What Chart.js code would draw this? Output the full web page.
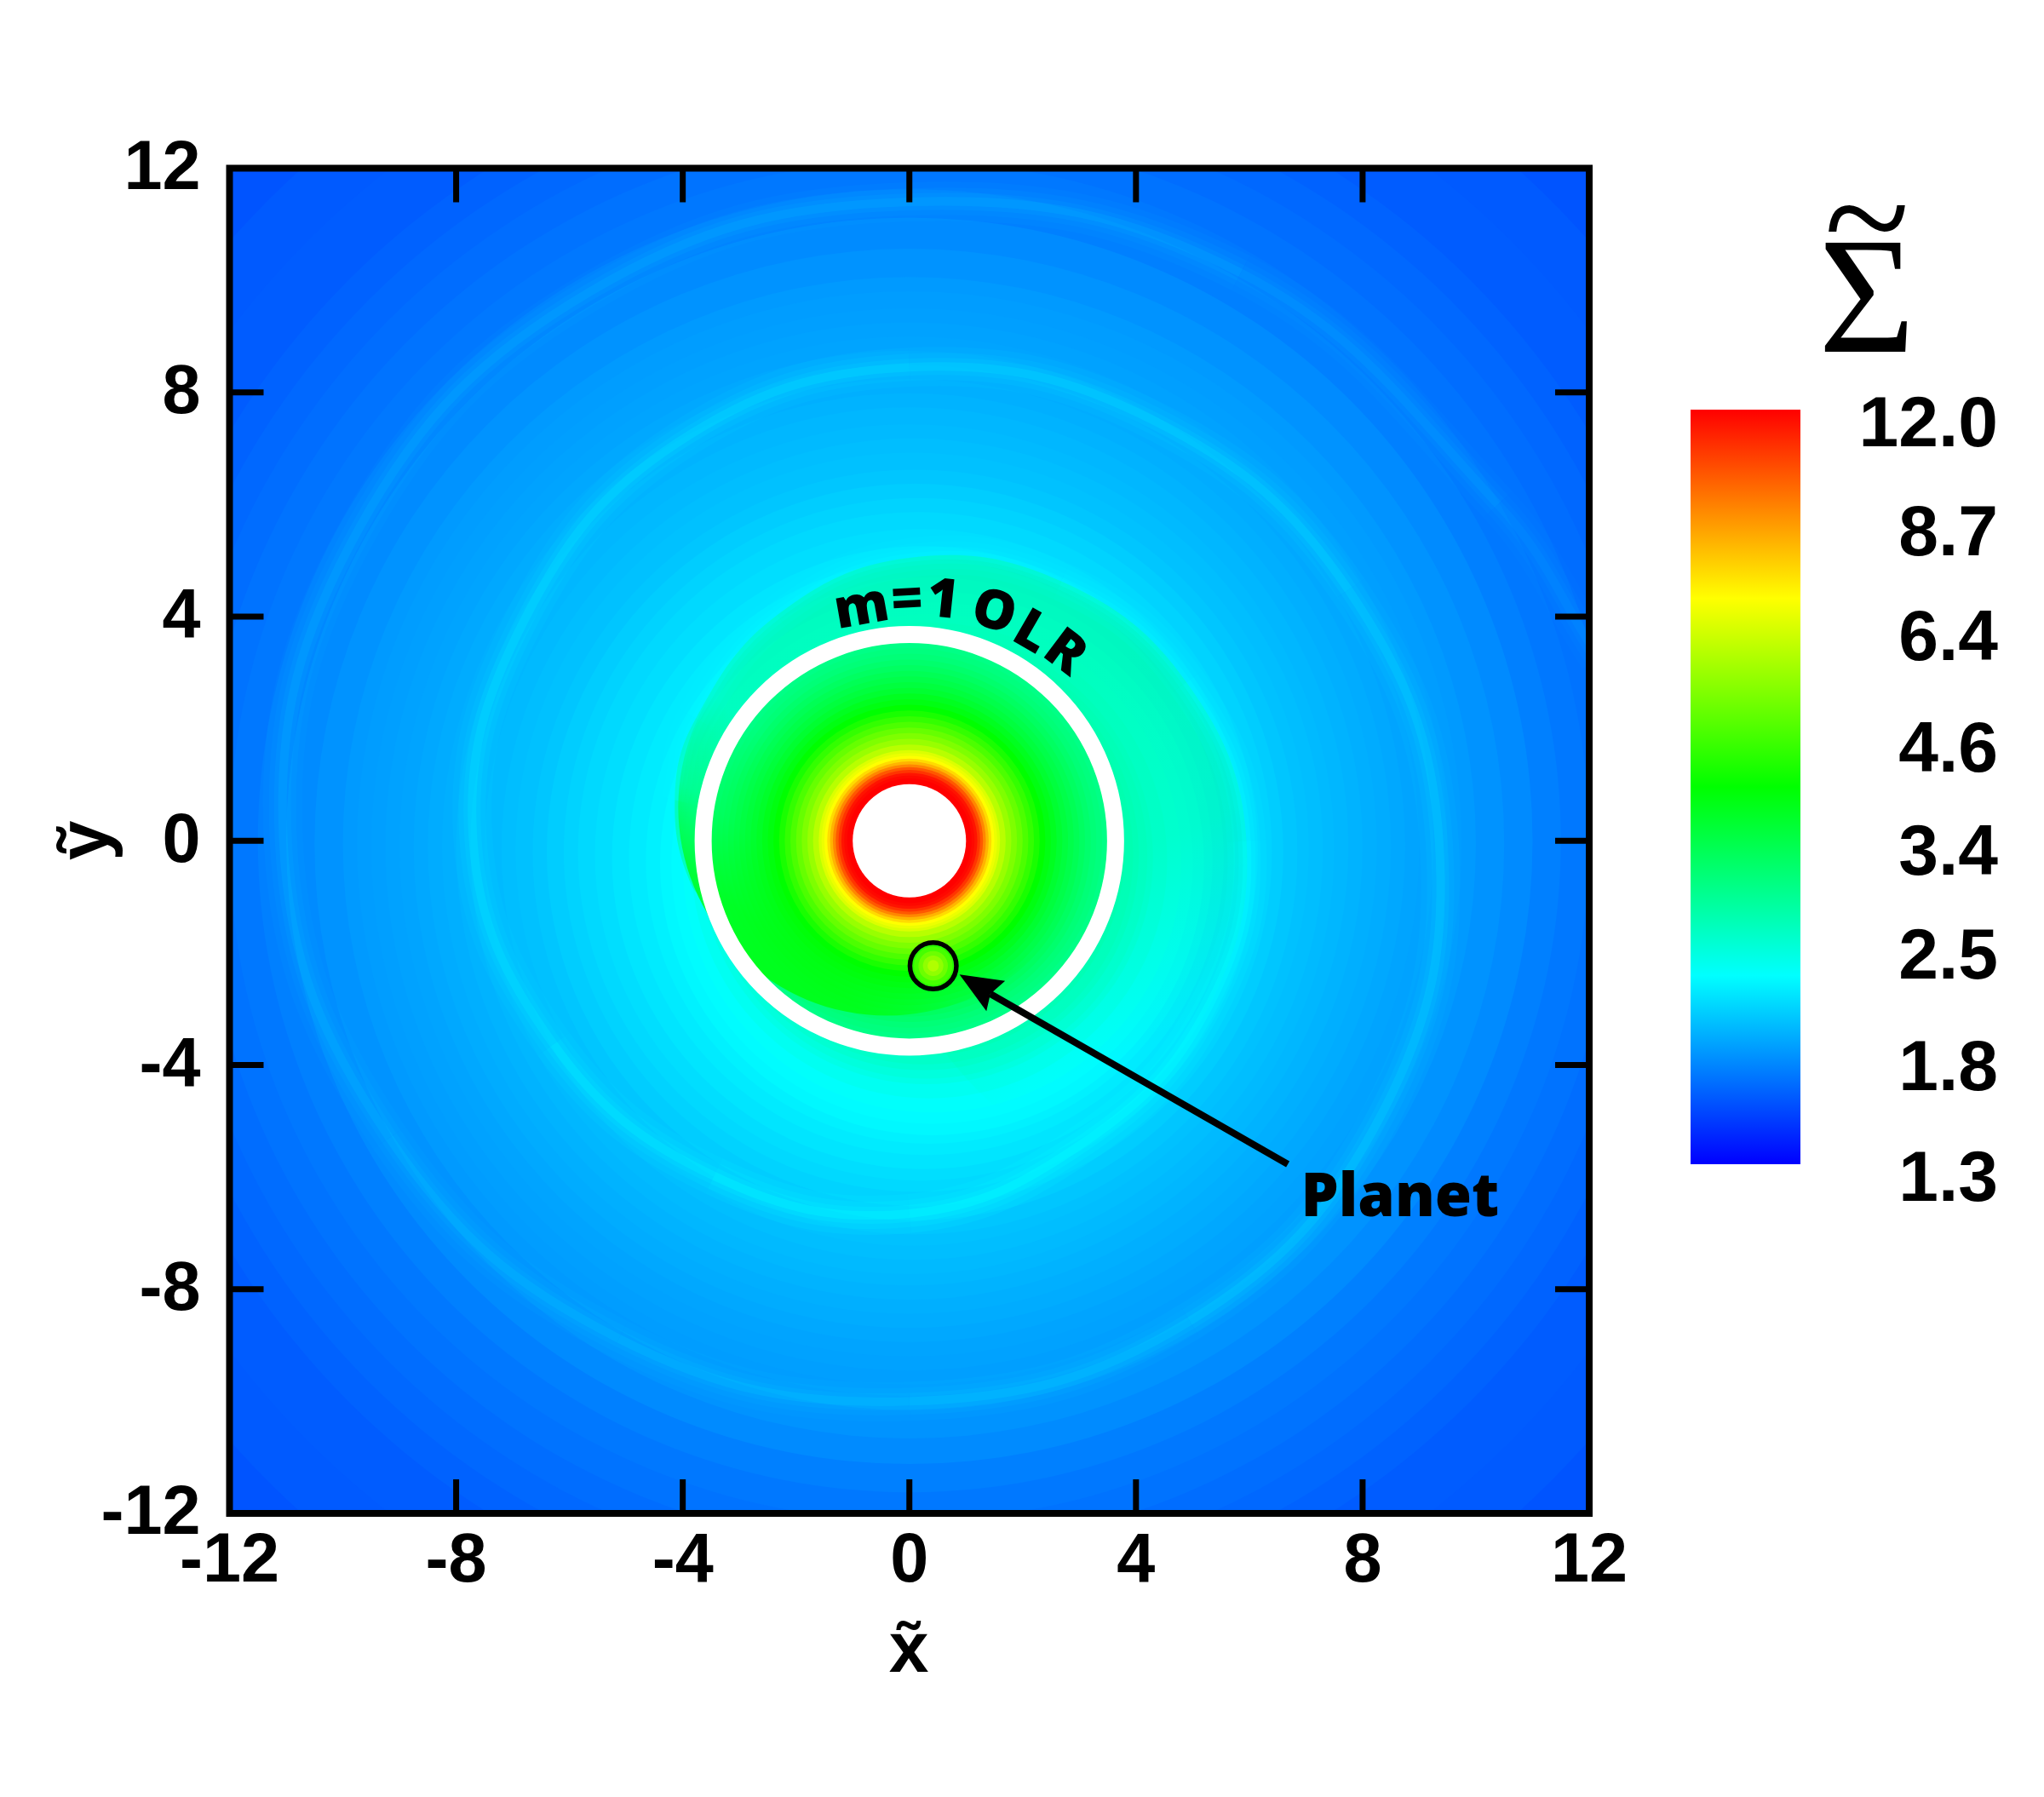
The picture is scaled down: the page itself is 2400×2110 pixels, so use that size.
<!DOCTYPE html>
<html>
<head>
<meta charset="utf-8">
<title>Disc surface density</title>
<script src="https://cdn.jsdelivr.net/npm/chart.js@4"></script>
<style>
  html, body { margin: 0; padding: 0; background: #fff; }
  canvas { position: absolute; left: 0; top: 0; }
</style>
</head>
<body>
<canvas id="field" width="2400" height="2110"></canvas>
<canvas id="bar" width="2400" height="2110"></canvas>
<script>
// --- Axis ticks ---
const xTicks = [-12, -8, -4, 0, 4, 8, 12];
const yTicks = [-12, -8, -4, 0, 4, 8, 12];
const barTicks = [1.3, 1.8, 2.5, 3.4, 4.6, 6.4, 8.7, 12.0];

// --- Colour map (position along the colour bar, rgb) ---
const mapPos = [0, 0.25, 0.5, 0.75, 1];
const mapRgb = [[0, 0, 255], [0, 255, 255], [0, 255, 0], [255, 255, 0], [255, 0, 0]];

// --- Density, outer part of the disc (big to small) ---
const outerRadius = [18, 16, 15, 14, 13.5, 13, 12.5, 12, 11.5, 11, 10.5, 10, 9.75, 9.5, 9.25, 9, 8.75, 8.5, 8.25, 8, 7.75, 7.5, 7.25, 7, 6.75, 6.5, 6.25, 6, 5.75, 5.5, 5.25, 5, 4.8, 4.6, 4.4, 4.2, 4, 3.9, 3.8, 3.7, 3.6];
const outerX = [0, 0, 0, 0, 0, 0, 0, 0, 0, 0, 0, 0, 0, 0, 0, 0, 0, 0, 0, 0, 0, 0, 0.05, 0.05, 0.1, 0.1, 0.15, 0.15, 0.2, 0.25, 0.3, 0.35, 0.4, 0.4, 0.4, 0.35, 0.3, 0.3, 0.25, 0.25, 0.2];
const outerY = [0, 0, 0, 0, 0, 0, 0, 0, 0, 0, -0.05, -0.05, -0.05, -0.1, -0.1, -0.1, -0.1, -0.1, -0.1, -0.1, -0.1, -0.15, -0.15, -0.15, -0.2, -0.2, -0.2, -0.2, -0.25, -0.3, -0.3, -0.35, -0.4, -0.4, -0.4, -0.35, -0.3, -0.3, -0.25, -0.25, -0.2];
const outerSigma = [1.56, 1.58, 1.59, 1.61, 1.63, 1.65, 1.67, 1.69, 1.72, 1.76, 1.79, 1.82, 1.83, 1.84, 1.85, 1.86, 1.875, 1.89, 1.905, 1.92, 1.935, 1.95, 1.965, 1.98, 2.0, 2.03, 2.06, 2.085, 2.11, 2.14, 2.17, 2.2, 2.23, 2.25, 2.28, 2.33, 2.39, 2.44, 2.5, 2.55, 2.61];

// --- Density inside the white circle ---
const innerRadius = [3.5, 3.4, 3.3, 3.2, 3.1, 3, 2.9, 2.8, 2.7, 2.6, 2.5];
const innerSigma = [2.95, 3, 3.05, 3.12, 3.2, 3.28, 3.36, 3.45, 3.55, 3.68, 3.8];

// --- Density around the central hole ---
const coreRadius = [2.4, 2.3, 2.2, 2.1, 2, 1.9, 1.8, 1.7, 1.6, 1.55, 1.5, 1.45, 1.4, 1.35, 1.3, 1.25, 1.2, 1.15, 1.1];
const coreSigma = [3.95, 4.17, 4.41, 4.66, 4.93, 5.2, 5.5, 5.9, 6.36, 6.6, 6.88, 7.45, 8.1, 8.95, 9.9, 10.7, 11.5, 11.8, 12];

// --- Density in the planet's wake ---
const planetX = 0.42;
const planetY = -2.23;
const wakeRadius = [0.42, 0.34, 0.26, 0.18, 0.1];
const wakeSigma = [4.3, 4.6, 5, 5.4, 5.8];
const holeRadius = 1.0;
const gapRadius = 3.64;
const planetRadius = 0.41;

// --- Front of the m=1 lobe, read point by point ---
const lobeX = [-3.3, -3.84, -4.14, -3.77, -2.33, 0, 2.68, 4.89, 5.95, 5.24, 3.1, 0.5, 0];
const lobeY = [-1.2, -0.8, 0.73, 2.18, 4.03, 5.05, 4.63, 2.83, 0, -3.03, -5.37, -3.6, -1];

// --- Spiral wave crest and how strongly it shows along its length ---
const crestX = [-4.14, -3.77, -2.33, 0, 2.68, 4.89, 5.95, 5.24, 3.1, 0, -3.45, -6.28, -7.7, -6.8, -4.1, 0, 4.33, 7.75, 9.35, 8.36, 4.95, 0, -5.13, -9.18, -11.05, -9.7, -5.65, 0, 5.85, 10.39, 12.17];
const crestY = [0.73, 2.18, 4.03, 5.05, 4.63, 2.83, 0, -3.03, -5.37, -6.65, -5.98, -3.63, 0, 3.93, 7.1, 8.45, 7.49, 4.48, 0, -4.83, -8.57, -10, -8.88, -5.3, 0, 5.6, 9.79, 11.4, 10.13, 6, 3.26];
const crestStrength = [0.5, 0.6, 0.55, 0.55, 0.65, 0.8, 1, 1, 1, 0.85, 0.65, 0.5, 0.5, 0.5, 0.5, 0.45, 0.45, 0.4, 0.4, 0.4, 0.35, 0.3, 0.28, 0.25, 0.25, 0.25, 0.25, 0.25, 0.2, 0.15, 0.1];

// --- Arrow to the planet ---
const arrowX = [6.68, 1.43];
const arrowY = [-5.77, -2.73];
const headX = [0.885, 1.69, 1.43, 1.36];
const headY = [-2.385, -2.5, -2.73, -3.04];

// --- Labels placed in data coordinates ---
const arcChars = ['m', '=', '1', 'O', 'L', 'R'];
const arcX = [-0.84, -0.04, 0.59, 1.49, 2.15, 2.74];
const arcY = [4.14, 4.27, 4.27, 4.06, 3.7, 3.34];
const arcAngle = [-10, -3, 6, 16, 30, 37];
const planetLabel = 'Planet';
const planetLabelX = 6.91;
const planetLabelY = -6.7;

// --- Helpers ---
function sigmaPos(s) {
  return Math.log(s / barTicks[0]) / Math.log(barTicks[barTicks.length - 1] / barTicks[0]);
}
function mapColor(t) {
  let i = 0;
  while (i < mapPos.length - 2 && t > mapPos[i + 1]) i++;
  const f = Math.max(0, Math.min(1, (t - mapPos[i]) / (mapPos[i + 1] - mapPos[i])));
  const c = mapRgb[i].map((v, k) => Math.round(v + (mapRgb[i + 1][k] - v) * f));
  return `rgb(${c[0]},${c[1]},${c[2]})`;
}
function sigmaColor(s) {
  return mapColor(sigmaPos(s));
}
function scaleRadius(ctx) {
  const xs = ctx.chart.scales.x;
  if (!ctx.raw || !ctx.chart.chartArea) return 1;
  return xs.getPixelForValue(ctx.raw.size) - xs.getPixelForValue(0);
}
function discs(xs, ys, sizes, sigmas, order) {
  return {
    type: 'scatter',
    showLine: false,
    order,
    clip: 0,
    data: sizes.map((size, i) => ({ x: xs[i], y: ys[i], size, color: sigmaColor(sigmas[i]) })),
    pointRadius: scaleRadius,
    pointBorderWidth: 0,
    pointBackgroundColor: ctx => ctx.raw ? ctx.raw.color : '#000'
  };
}
function circle(x, y, size, order, style) {
  return Object.assign({
    type: 'scatter',
    showLine: false,
    order,
    clip: 0,
    data: [{ x, y, size }],
    pointRadius: scaleRadius,
    pointBorderWidth: 0,
    pointBackgroundColor: 'rgba(0,0,0,0)'
  }, style);
}
function path(xs, ys, order, style) {
  return Object.assign({
    type: 'line',
    order,
    clip: 0,
    data: xs.map((x, i) => ({ x, y: ys[i] })),
    pointRadius: 0,
    fill: false,
    tension: 0.4
  }, style);
}
function crestStroke(width, alpha, order) {
  return path(crestX, crestY, order, {
    borderWidth: width,
    borderColor: 'rgba(0,255,255,0.1)',
    borderCapStyle: 'butt',
    segment: {
      borderColor: ctx => `rgba(0,255,255,${crestStrength[ctx.p0DataIndex] * alpha})`
    }
  });
}
// linear gradient between two data positions, stops are [offset, css colour]
function fadeFill(x0, y0, x1, y1, stops) {
  return ctx => {
    const c = ctx.chart;
    if (!c.chartArea) return 'rgba(0,0,0,0)';
    const g = c.ctx.createLinearGradient(
      c.scales.x.getPixelForValue(x0), c.scales.y.getPixelForValue(y0),
      c.scales.x.getPixelForValue(x1), c.scales.y.getPixelForValue(y1));
    stops.forEach(s => g.addColorStop(s[0], s[1]));
    return g;
  };
}

// --- Frame, inward ticks and labels ---
const framePlugin = {
  id: 'frame',
  afterDatasetsDraw(chart) {
    const { ctx, chartArea: a, scales: { x, y } } = chart;
    ctx.save();
    ctx.strokeStyle = '#000';
    ctx.lineWidth = 7;
    xTicks.slice(1, -1).forEach(v => {
      const p = x.getPixelForValue(v);
      ctx.beginPath();
      ctx.moveTo(p, a.top); ctx.lineTo(p, a.top + 40);
      ctx.moveTo(p, a.bottom); ctx.lineTo(p, a.bottom - 40);
      ctx.stroke();
    });
    yTicks.slice(1, -1).forEach(v => {
      const p = y.getPixelForValue(v);
      ctx.beginPath();
      ctx.moveTo(a.left, p); ctx.lineTo(a.left + 40, p);
      ctx.moveTo(a.right, p); ctx.lineTo(a.right - 40, p);
      ctx.stroke();
    });
    ctx.lineWidth = 8;
    ctx.strokeRect(a.left, a.top, a.right - a.left, a.bottom - a.top);

    // curved resonance label
    ctx.fillStyle = '#000';
    ctx.textAlign = 'center';
    ctx.textBaseline = 'middle';
    ctx.font = '800 64px "Open Sans"';
    arcChars.forEach((ch, i) => {
      ctx.save();
      ctx.translate(x.getPixelForValue(arcX[i]), y.getPixelForValue(arcY[i]));
      ctx.rotate(arcAngle[i] * Math.PI / 180);
      ctx.fillText(ch, 0, 0);
      ctx.restore();
    });
    ctx.textAlign = 'left';
    ctx.textBaseline = 'alphabetic';
    ctx.font = '800 70px "Open Sans"';
    ctx.fillText(planetLabel, x.getPixelForValue(planetLabelX), y.getPixelForValue(planetLabelY));

    // axis titles
    ctx.textAlign = 'center';
    ctx.textBaseline = 'middle';
    ctx.font = 'bold 84px "Liberation Sans"';
    ctx.fillText('x\u0303', 1067, 1940);
    ctx.save();
    ctx.translate(104, 987);
    ctx.rotate(-Math.PI / 2);
    ctx.fillText('y\u0303', 0, 0);
    ctx.restore();
    ctx.font = '195px "Liberation Serif"';
    ctx.fillText('\u03a3', 2192, 362);
    ctx.font = '185px "Liberation Serif"';
    ctx.fillText('~', 2192, 268);
    ctx.restore();
  }
};

// --- Main chart ---
const tickFont = { family: '"Liberation Sans"', weight: 'bold', size: 81 };
new Chart(document.getElementById('field'), {
  type: 'scatter',
  data: {
    datasets: [
      discs(outerX, outerY, outerRadius, outerSigma, 100),
      path(lobeX, lobeY, 95, {
        fill: 'shape',
        borderWidth: 0,
        backgroundColor: fadeFill(-2, 1, 0.5, -5.2, [[0, 'rgba(0,255,150,0.6)'], [0.5, 'rgba(0,255,150,0.45)'], [1, 'rgba(0,255,150,0)']])
      }),
      crestStroke(46, 0.12, 90),
      crestStroke(32, 0.15, 89),
      crestStroke(20, 0.2, 88),
      crestStroke(10, 0.35, 87),
      discs(innerRadius.map(() => 0), innerRadius.map(() => 0), innerRadius, innerSigma, 70),
      circle(-0.4, 0.6, 3.68, 60, {
        pointBackgroundColor: fadeFill(-2.2, -3.4, 0.2, -0.4, [[0, 'rgba(0,255,0,0.85)'], [0.3, 'rgba(0,255,0,0.7)'], [0.6, 'rgba(0,255,0,0.25)'], [1, 'rgba(0,255,0,0)']])
      }),
      discs(coreRadius.map(() => 0), coreRadius.map(() => 0), coreRadius, coreSigma, 50),
      discs(wakeRadius.map(() => planetX), wakeRadius.map(() => planetY), wakeRadius, wakeSigma, 40),
      circle(0, 0, holeRadius, 30, { pointBackgroundColor: '#fff' }),
      circle(0, 0, gapRadius, 20, { pointBorderWidth: 20, pointBorderColor: '#fff' }),
      circle(planetX, planetY, planetRadius, 10, { pointBorderWidth: 5.5, pointBorderColor: '#000' }),
      path(arrowX, arrowY, 5, { borderWidth: 8, borderColor: '#000', tension: 0 }),
      path(headX, headY, 4, { fill: 'shape', borderWidth: 0, backgroundColor: '#000', tension: 0 })
    ]
  },
  options: {
    responsive: false,
    animation: false,
    events: [],
    layout: { padding: { left: 100, right: 534, top: 197.5, bottom: 100 } },
    plugins: { legend: { display: false }, tooltip: { enabled: false } },
    scales: {
      x: {
        type: 'linear', min: -12, max: 12,
        grid: { display: false, drawTicks: false },
        border: { display: false },
        afterBuildTicks: s => { s.ticks = xTicks.map(value => ({ value })); },
        afterFit: s => { s.height = 233; },
        ticks: { font: tickFont, color: '#000', padding: 9, maxRotation: 0, autoSkip: false }
      },
      y: {
        type: 'linear', min: -12, max: 12,
        grid: { display: false, drawTicks: false },
        border: { display: false },
        afterBuildTicks: s => { s.ticks = yTicks.map(value => ({ value })); },
        afterFit: s => { s.width = 169.5; },
        ticks: { font: tickFont, color: '#000', padding: 34, autoSkip: false, labelOffset: 2 }
      }
    }
  },
  plugins: [framePlugin]
});

// --- Colour bar ---
new Chart(document.getElementById('bar'), {
  type: 'bar',
  data: {
    labels: [''],
    datasets: [{
      data: [[barTicks[0], barTicks[barTicks.length - 1]]],
      barPercentage: 1,
      categoryPercentage: 1,
      borderWidth: 0,
      backgroundColor: ctx => {
        const a = ctx.chart.chartArea;
        if (!a || !isFinite(a.bottom)) return '#000';
        const g = ctx.chart.ctx.createLinearGradient(0, a.bottom, 0, a.top);
        mapPos.forEach(p => g.addColorStop(p, mapColor(p)));
        return g;
      }
    }]
  },
  options: {
    responsive: false,
    animation: false,
    events: [],
    layout: { padding: { left: 1985, right: 54, top: 481, bottom: 743 } },
    plugins: { legend: { display: false }, tooltip: { enabled: false } },
    scales: {
      x: { display: false },
      y: {
        type: 'logarithmic', position: 'right', min: 1.3, max: 12,
        grid: { display: false, drawTicks: false },
        border: { display: false },
        afterBuildTicks: s => { s.ticks = barTicks.map(value => ({ value })); },
        afterFit: s => { s.width = 232; },
        ticks: {
          font: { family: '"Liberation Sans"', weight: 'bold', size: 84 },
          color: '#000', padding: 23, autoSkip: false,
          crossAlign: 'far', labelOffset: 20,
          callback: v => v.toFixed(1)
        }
      }
    }
  }
});
</script>
</body>
</html>
